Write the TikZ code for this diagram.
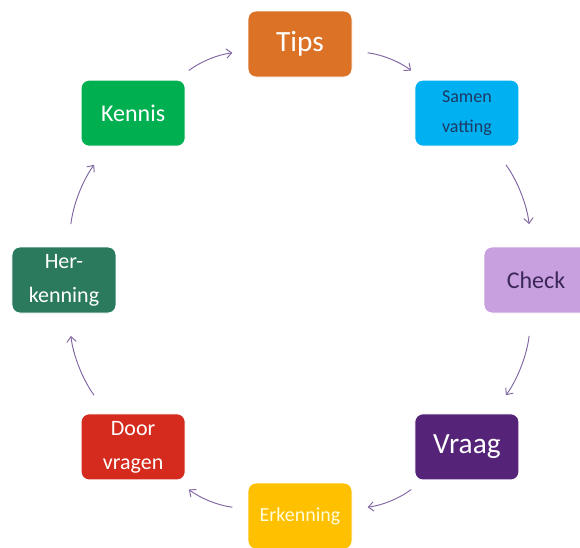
\documentclass[tikz,border=0pt]{standalone}
\usepackage{fontspec}
\setmainfont{Carlito}
\usetikzlibrary{arrows.meta}

\definecolor{tipsoranje}{HTML}{DC7226}
\definecolor{samenblauw}{HTML}{00B0F0}
\definecolor{checklila}{HTML}{C8A0E0}
\definecolor{vraagpaars}{HTML}{552378}
\definecolor{erkengeel}{HTML}{FFC000}
\definecolor{doorrood}{HTML}{D52B1E}
\definecolor{hergroen}{HTML}{2C7A5E}
\definecolor{kennisgroen}{HTML}{00B050}
\definecolor{pijlpaars}{HTML}{8064A2}
\definecolor{donkerblauw}{HTML}{203864}
\definecolor{donkerlila}{HTML}{3B2757}

\tikzset{
  stap/.style={rounded corners=6pt, minimum width=78pt, minimum height=49.5pt,
    align=center, inner sep=2pt, draw=white, line width=0.6pt},
  pijl/.style={-{Straight Barb[length=4pt,width=7pt]}, draw=pijlpaars, line width=0.7pt,
    shorten <=11.5pt, shorten >=11.5pt},
  pijlv/.style={pijl, shorten <=17pt, shorten >=17pt},
}

\begin{document}
\begin{tikzpicture}[x=0.75pt,y=0.75pt]
    \useasboundingbox (-300,-267) rectangle (280,280);

    % de acht stappen op een cirkel
    \node[stap, fill=tipsoranje, text=white, font=\fontsize{22}{24}\selectfont] (tips) at (90:236) {Tips};
    \node[stap, fill=samenblauw, text=donkerblauw, font=\fontsize{13.5}{22}\selectfont] (samen) at (45:236) {Samen\\vatting};
    \node[stap, fill=checklila, text=donkerlila, font=\fontsize{18}{20}\selectfont] (check) at (0:236) {Check};
    \node[stap, fill=vraagpaars, text=white, font=\fontsize{22}{24}\selectfont] (vraag) at (-45:236) {Vraag};
    \node[stap, fill=erkengeel, text=white!85!yellow, font=\fontsize{15}{17}\selectfont] (erkenning) at (-90:236) {Erkenning};
    \node[stap, fill=doorrood, text=white, font=\fontsize{16.5}{25.5}\selectfont] (door) at (-135:236) {Door\\vragen};
    \node[stap, fill=hergroen, text=white, font=\fontsize{16.5}{25.5}\selectfont] (her) at (180:236) {Her-\\kenning};
    \node[stap, fill=kennisgroen, text=white, font=\fontsize{18}{20}\selectfont] (kennis) at (135:236) {Kennis};

    % pijlen met de klok mee
    \draw[pijl] (tips) to[bend left=15] (samen);
    \draw[pijlv] (samen) to[bend left=15] (check);
    \draw[pijlv] (check) to[bend left=15] (vraag);
    \draw[pijl] (vraag) to[bend left=15] (erkenning);
    \draw[pijl] (erkenning) to[bend left=15] (door);
    \draw[pijlv] (door) to[bend left=15] (her);
    \draw[pijlv] (her) to[bend left=15] (kennis);
    \draw[pijl] (kennis) to[bend left=15] (tips);
\end{tikzpicture}
\end{document}
